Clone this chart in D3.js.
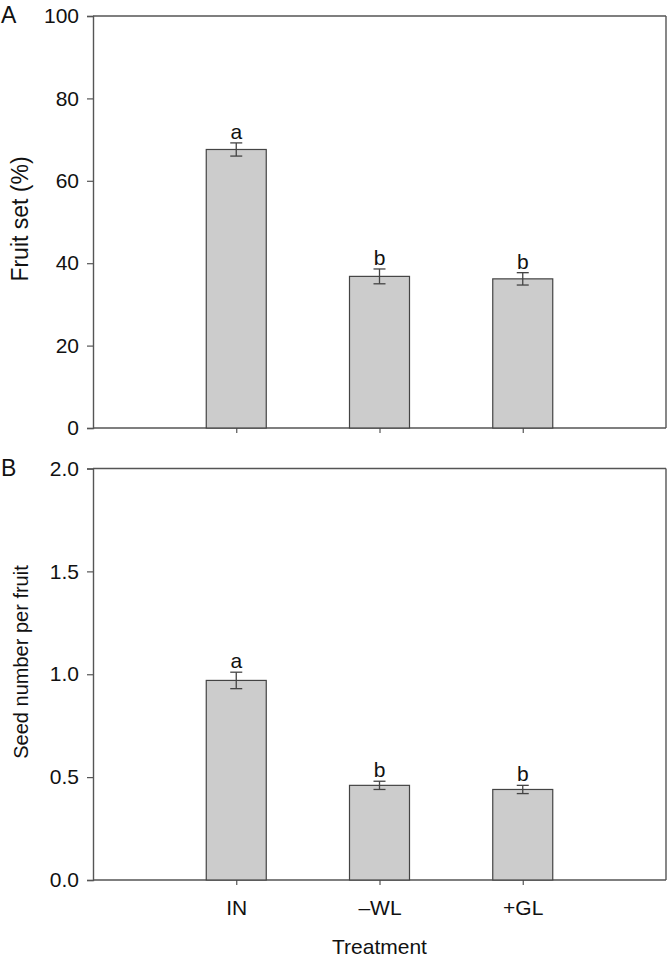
<!DOCTYPE html>
<html lang="en">
<meta charset="UTF-8">
<script src="https://d3js.org/d3.v7.min.js"></script>
<head>
    <style>
        body { margin: 0; background: #fff; }
        svg text { font-family: "Liberation Sans", Arial, sans-serif; fill: #111; }
    </style>
</head>
<body>
<div id="chart"></div>
<script>
    const width = 669, height = 959;

    // data
    const treatments = ["IN", "\u2013WL", "+GL"];
    const fruitSet = [67.6, 36.8, 36.2];
    const fruitSetErr = [1.6, 1.8, 1.5];
    const fruitSetLetters = ["a", "b", "b"];
    const seedNumber = [0.97, 0.46, 0.44];
    const seedNumberErr = [0.04, 0.02, 0.02];
    const seedNumberLetters = ["a", "b", "b"];
    const fruitTicks = [0, 20, 40, 60, 80, 100];
    const seedTicks = [0, 0.5, 1.0, 1.5, 2.0];

    const left = 93, right = 666;

    const svg = d3.select("#chart")
        .append("svg")
        .attr("width", width)
        .attr("height", height);

    const x = d3.scalePoint()
        .domain(treatments)
        .range([left, right])
        .padding(1);

    function drawPanel(opts) {
        const y = d3.scaleLinear()
            .domain([0, opts.max])
            .range([opts.bottom, opts.top]);
        const g = svg.append("g");
        const rows = treatments.map((t, i) => ({t: t, v: opts.values[i], e: opts.errs[i], l: opts.letters[i]}));

        // frame (top and right sides)
        g.append("line").attr("x1", left).attr("x2", right).attr("y1", opts.top).attr("y2", opts.top)
            .attr("stroke", "#555").attr("stroke-width", 1.4);
        g.append("line").attr("x1", right).attr("x2", right).attr("y1", opts.top).attr("y2", opts.bottom)
            .attr("stroke", "#555").attr("stroke-width", 1.4);

        // y axis
        const yAxis = g.append("g")
            .attr("transform", `translate(${left},0)`)
            .call(d3.axisLeft(y).tickValues(opts.ticks).tickSize(6).tickPadding(8).tickFormat(opts.fmt));
        yAxis.attr("font-size", null).attr("font-family", null);
        yAxis.select(".domain").attr("stroke", "#555").attr("stroke-width", 1.4);
        yAxis.selectAll(".tick line").attr("stroke", "#555").attr("stroke-width", 1.2);
        yAxis.selectAll(".tick text").style("font-size", "21px").attr("fill", "#111");

        // x axis
        const xAxis = g.append("g")
            .attr("transform", `translate(0,${opts.bottom})`)
            .call(d3.axisBottom(x).tickSize(5).tickPadding(15).tickSizeOuter(0));
        xAxis.attr("font-size", null).attr("font-family", null);
        xAxis.select(".domain").attr("stroke", "#555").attr("stroke-width", 1.4)
            .attr("d", `M${left},0H${right}`);
        xAxis.selectAll(".tick line").attr("stroke", "#555").attr("stroke-width", 1.2);
        xAxis.selectAll(".tick text").style("font-size", "21px").attr("fill", "#111")
            .style("display", opts.showX ? null : "none");

        const bw = 60;
        g.selectAll("rect.bar")
            .data(rows)
            .join("rect")
            .attr("class", "bar")
            .attr("x", d => x(d.t) - bw / 2)
            .attr("width", bw)
            .attr("y", d => y(d.v))
            .attr("height", d => y(0) - y(d.v))
            .attr("fill", "#cccccc")
            .attr("stroke", "#444")
            .attr("stroke-width", 1.2);

        // error bars
        const cap = 6;
        const eb = g.selectAll("g.err").data(rows).join("g").attr("class", "err")
            .attr("stroke", "#444").attr("stroke-width", 1.3);
        eb.append("line").attr("x1", d => x(d.t)).attr("x2", d => x(d.t))
            .attr("y1", d => y(d.v + d.e)).attr("y2", d => y(d.v - d.e));
        eb.append("line").attr("x1", d => x(d.t) - cap).attr("x2", d => x(d.t) + cap)
            .attr("y1", d => y(d.v + d.e)).attr("y2", d => y(d.v + d.e));
        eb.append("line").attr("x1", d => x(d.t) - cap).attr("x2", d => x(d.t) + cap)
            .attr("y1", d => y(d.v - d.e)).attr("y2", d => y(d.v - d.e));

        // significance letters
        g.selectAll("text.letter").data(rows).join("text").attr("class", "letter")
            .attr("x", d => x(d.t))
            .attr("y", d => y(d.v + d.e) - 4)
            .attr("text-anchor", "middle")
            .style("font-size", "21px")
            .text(d => d.l);

        // y title
        g.append("text")
            .attr("transform", `translate(28,${opts.titleY}) rotate(-90)`)
            .attr("text-anchor", "middle")
            .style("font-size", opts.titleSize + "px")
            .text(opts.title);

        // panel letter
        g.append("text")
            .attr("x", 1).attr("y", opts.top + 7)
            .style("font-size", "23px")
            .text(opts.panel);
    }

    drawPanel({
        top: 16, bottom: 428, max: 100, ticks: fruitTicks, fmt: d3.format("d"),
        values: fruitSet, errs: fruitSetErr, letters: fruitSetLetters,
        title: "Fruit set (%)", titleY: 219, titleSize: 23, panel: "A", showX: false
    });
    drawPanel({
        top: 468.5, bottom: 880, max: 2, ticks: seedTicks, fmt: d3.format(".1f"),
        values: seedNumber, errs: seedNumberErr, letters: seedNumberLetters,
        title: "Seed number per fruit", titleY: 662, titleSize: 20, panel: "B", showX: true
    });

    // x title
    svg.append("text")
        .attr("x", x(treatments[1]))
        .attr("y", 954)
        .attr("text-anchor", "middle")
        .style("font-size", "21px")
        .text("Treatment");
</script>
</body>
</html>
